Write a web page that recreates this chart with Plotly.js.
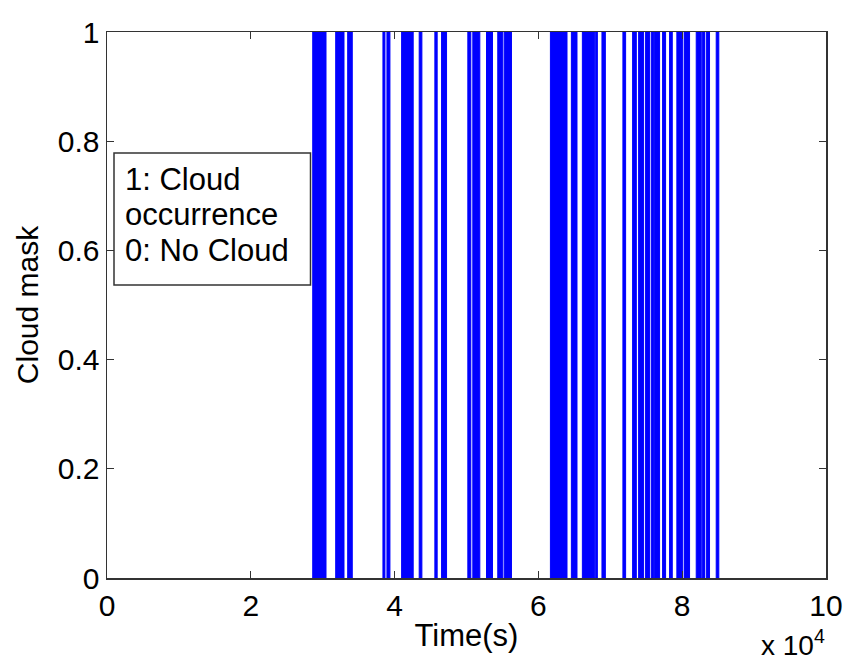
<!DOCTYPE html>
<html>
<head>
<meta charset="utf-8">
<script src="https://cdn.plot.ly/plotly-3.0.1.min.js"></script>
<style>html,body{margin:0;padding:0;background:#fff;}#chart{width:845px;height:664px;}</style>
</head>
<body>
<div id="chart"></div>
<script>
// Cloud occurrence intervals (seconds): start and end of each cloudy period (mask = 1)
const cloudStart = [28613, 31808, 33475, 38378, 38934, 40976, 43420, 45601, 46532, 50185, 50879, 52782, 54351, 55250, 61672, 64589, 66116, 67964, 68840, 71755, 73103, 73937, 74910, 75702, 76160, 77272, 78244, 79257, 80327, 81952, 82786, 83342, 84730];
const cloudEnd   = [30460, 32961, 34114, 38656, 39350, 42587, 43795, 45920, 47226, 50601, 51852, 53615, 55050, 56254, 63978, 65367, 67825, 68200, 69312, 72130, 73617, 74632, 75466, 76022, 76855, 77689, 78619, 80090, 81022, 82647, 83105, 83800, 85091];
const xTickVals = [0, 20000, 40000, 60000, 80000, 100000];
const xTickText = ['0', '2', '4', '6', '8', '10'];
const yTickVals = [0, 0.2, 0.4, 0.6, 0.8, 1];
const yTickText = ['0', '0.2', '0.4', '0.6', '0.8', '1'];
const legendLines = ['1: Cloud', 'occurrence', '0: No Cloud'];

// Build one closed polygon per cloudy interval (mask = 1), separated by gaps
const t = [], mask = [];
for (let i = 0; i < cloudStart.length; i++) {
  t.push(cloudStart[i], cloudStart[i], cloudEnd[i], cloudEnd[i], cloudStart[i], null);
  mask.push(0, 1, 1, 0, 0, null);
}

const trace = {
  x: t, y: mask, type: 'scatter', mode: 'lines',
  line: {color: '#0000ff', width: 1}, connectgaps: false,
  fill: 'toself', fillcolor: '#0000ff',
  hoverinfo: 'skip', showlegend: false
};

const font = {family: 'Liberation Sans, Arial, sans-serif', color: '#000'};
const f = s => Object.assign({size: s}, font);

// plot area in pixels: left 107, right 826, top 32, bottom 578
const px2x = p => (p - 107) / 719;
const px2y = p => (578 - p) / 546;

const annotations = legendLines.map((txt, i) => ({
  xref: 'paper', yref: 'paper', x: px2x(123), y: px2y(179 + 35.5 * i),
  xanchor: 'left', yanchor: 'middle', text: txt, showarrow: false, font: f(31)
}));
annotations.push({
  xref: 'paper', yref: 'paper', x: px2x(827), y: px2y(663), xanchor: 'right', yanchor: 'bottom',
  text: 'x 10<sup>4</sup>', showarrow: false, font: f(28)
});

const layout = {
  width: 845, height: 664,
  margin: {l: 107, r: 19, t: 32, b: 86},
  paper_bgcolor: '#fff', plot_bgcolor: '#fff',
  font: f(30),
  xaxis: {
    range: [0, 100000], tickvals: xTickVals, ticktext: xTickText,
    showgrid: false, zeroline: false, showline: true, linecolor: '#333', linewidth: 1.5,
    mirror: 'ticks', ticks: 'inside', ticklen: 7, tickcolor: '#333',
    tickfont: f(30),
    title: {text: 'Time(s)', font: f(31), standoff: 4}
  },
  yaxis: {
    range: [0, 1], tickvals: yTickVals, ticktext: yTickText,
    showgrid: false, zeroline: false, showline: true, linecolor: '#333', linewidth: 1.5,
    mirror: 'ticks', ticks: 'inside', ticklen: 7, tickcolor: '#333',
    tickfont: f(30),
    title: {text: 'Cloud mask', font: f(30), standoff: 10}
  },
  shapes: [{
    type: 'rect', xref: 'paper', yref: 'paper',
    x0: px2x(114), x1: px2x(310.5), y0: px2y(285), y1: px2y(153),
    line: {color: '#333', width: 1.5}, fillcolor: '#fff', layer: 'above'
  }],
  annotations: annotations
};

Plotly.newPlot('chart', [trace], layout, {displayModeBar: false, staticPlot: true});
</script>
</body>
</html>
